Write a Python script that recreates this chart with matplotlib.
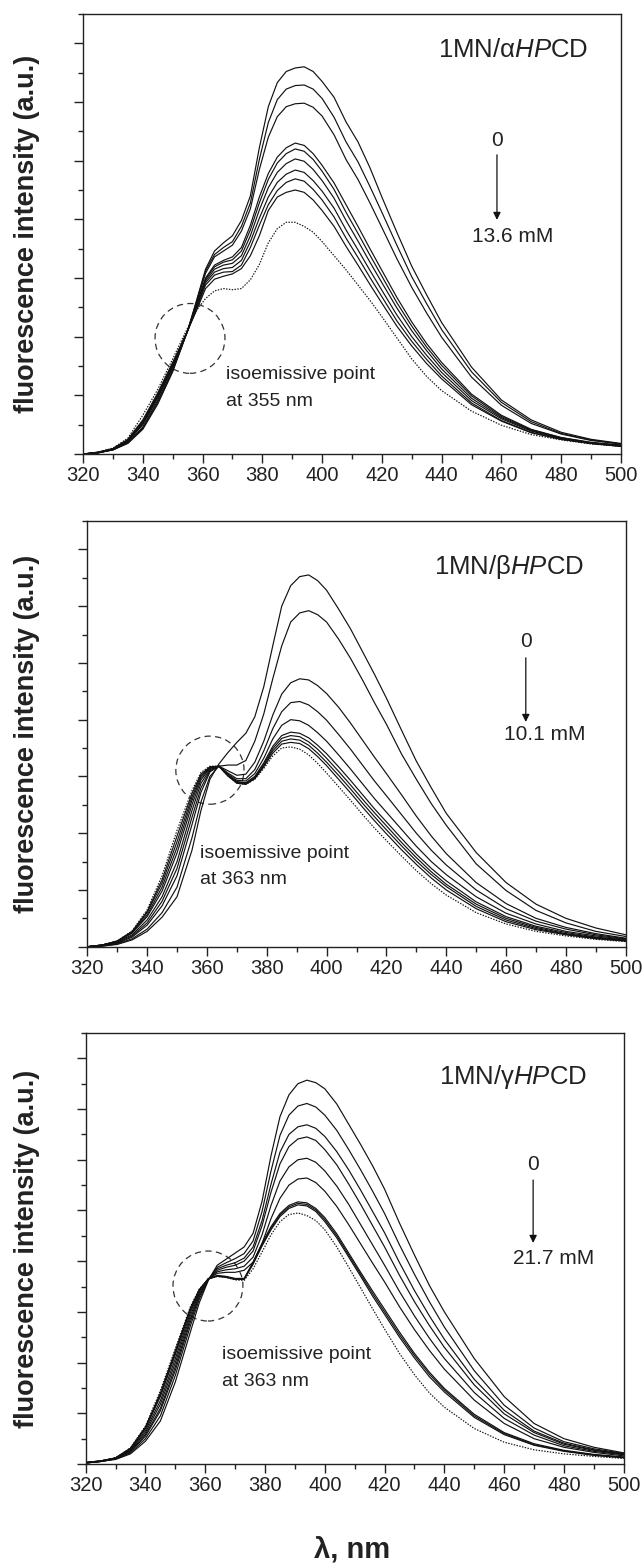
import numpy as np
import matplotlib
matplotlib.use("Agg")
import matplotlib.pyplot as plt
from matplotlib.patches import Ellipse
from matplotlib.ticker import MultipleLocator, NullFormatter

plt.rcParams['font.family'] = ['Liberation Sans', 'DejaVu Sans']
plt.rcParams['mathtext.fontset'] = 'custom'
plt.rcParams['mathtext.rm'] = 'Liberation Sans'
plt.rcParams['mathtext.it'] = 'Liberation Sans:italic'
plt.rcParams['mathtext.bf'] = 'Liberation Sans:bold'

# ---------------- data ----------------
wavelength = [320, 325, 330, 335, 340, 345, 350, 355, 358, 361, 364, 367, 370, 373, 376, 379, 382, 385, 388,
              391, 394, 397, 400, 404, 408, 412, 416, 420, 425, 430, 435, 440, 450, 460, 470, 480, 490, 500]

alpha_solid = [
    [0.00, 0.02, 0.07, 0.18, 0.42, 0.85, 1.40, 2.10, 2.62, 3.15, 3.46, 3.60, 3.72, 3.98, 4.40, 5.22, 5.92, 6.33, 6.52, 6.58, 6.60, 6.52, 6.35, 6.08, 5.66, 5.32, 4.88, 4.38, 3.78, 3.20, 2.71, 2.24, 1.48, 0.92, 0.58, 0.37, 0.25, 0.18],
    [0.00, 0.02, 0.07, 0.19, 0.44, 0.88, 1.42, 2.10, 2.60, 3.12, 3.40, 3.52, 3.62, 3.88, 4.28, 5.02, 5.65, 6.04, 6.22, 6.28, 6.29, 6.22, 6.06, 5.74, 5.32, 4.98, 4.56, 4.12, 3.56, 3.02, 2.56, 2.12, 1.40, 0.88, 0.55, 0.35, 0.24, 0.17],
    [0.00, 0.02, 0.07, 0.19, 0.46, 0.91, 1.44, 2.10, 2.58, 3.08, 3.36, 3.46, 3.56, 3.80, 4.18, 4.85, 5.40, 5.75, 5.92, 5.97, 5.98, 5.91, 5.76, 5.44, 5.02, 4.68, 4.28, 3.86, 3.33, 2.84, 2.40, 1.99, 1.31, 0.83, 0.52, 0.34, 0.23, 0.17],
    [0.00, 0.02, 0.08, 0.21, 0.50, 0.95, 1.48, 2.10, 2.55, 3.00, 3.22, 3.30, 3.36, 3.52, 3.90, 4.38, 4.78, 5.06, 5.22, 5.30, 5.26, 5.12, 4.92, 4.62, 4.25, 3.88, 3.50, 3.13, 2.67, 2.25, 1.88, 1.56, 1.02, 0.66, 0.42, 0.28, 0.20, 0.15],
    [0.00, 0.02, 0.08, 0.22, 0.51, 0.96, 1.49, 2.10, 2.54, 2.98, 3.19, 3.27, 3.31, 3.46, 3.82, 4.28, 4.68, 4.96, 5.12, 5.20, 5.16, 5.02, 4.82, 4.51, 4.12, 3.76, 3.39, 3.03, 2.58, 2.18, 1.82, 1.51, 0.99, 0.64, 0.41, 0.28, 0.19, 0.15],
    [0.00, 0.02, 0.08, 0.22, 0.53, 0.98, 1.50, 2.10, 2.52, 2.95, 3.15, 3.22, 3.25, 3.38, 3.72, 4.16, 4.54, 4.80, 4.95, 5.03, 4.99, 4.85, 4.66, 4.36, 3.98, 3.63, 3.27, 2.92, 2.49, 2.10, 1.76, 1.45, 0.95, 0.62, 0.40, 0.27, 0.19, 0.14],
    [0.00, 0.03, 0.09, 0.23, 0.54, 1.00, 1.52, 2.10, 2.50, 2.92, 3.10, 3.16, 3.18, 3.30, 3.62, 4.02, 4.38, 4.63, 4.77, 4.84, 4.80, 4.66, 4.48, 4.19, 3.82, 3.48, 3.13, 2.79, 2.37, 2.00, 1.68, 1.39, 0.91, 0.60, 0.39, 0.26, 0.18, 0.14],
    [0.00, 0.03, 0.09, 0.24, 0.56, 1.02, 1.54, 2.10, 2.48, 2.88, 3.05, 3.10, 3.11, 3.22, 3.52, 3.90, 4.25, 4.49, 4.63, 4.69, 4.65, 4.51, 4.33, 4.04, 3.68, 3.35, 3.01, 2.68, 2.27, 1.92, 1.61, 1.33, 0.87, 0.57, 0.37, 0.25, 0.18, 0.13],
    [0.00, 0.03, 0.09, 0.25, 0.58, 1.04, 1.56, 2.10, 2.45, 2.82, 2.98, 3.03, 3.07, 3.16, 3.38, 3.72, 4.15, 4.38, 4.46, 4.50, 4.46, 4.33, 4.15, 3.88, 3.54, 3.22, 2.89, 2.57, 2.18, 1.84, 1.54, 1.28, 0.84, 0.56, 0.36, 0.25, 0.18, 0.13],
]
alpha_dotted = [0.00, 0.03, 0.10, 0.27, 0.66, 1.10, 1.62, 2.15, 2.45, 2.65, 2.78, 2.82, 2.80, 2.82, 2.97, 3.23, 3.60, 3.84, 3.95, 3.95, 3.88, 3.78, 3.62, 3.38, 3.14, 2.88, 2.62, 2.34, 1.98, 1.62, 1.32, 1.08, 0.73, 0.49, 0.33, 0.24, 0.17, 0.13]

beta_solid = [
    [0.00, 0.01, 0.04, 0.12, 0.27, 0.52, 0.88, 1.70, 2.40, 2.95, 3.22, 3.42, 3.60, 3.76, 4.05, 4.58, 5.30, 6.00, 6.36, 6.52, 6.55, 6.45, 6.28, 5.95, 5.60, 5.20, 4.80, 4.38, 3.82, 3.27, 2.80, 2.35, 1.66, 1.13, 0.75, 0.50, 0.33, 0.21],
    [0.00, 0.01, 0.05, 0.14, 0.31, 0.60, 1.05, 1.92, 2.55, 3.00, 3.18, 3.20, 3.20, 3.28, 3.62, 4.10, 4.72, 5.30, 5.72, 5.88, 5.92, 5.85, 5.72, 5.42, 5.08, 4.70, 4.30, 3.92, 3.40, 2.95, 2.52, 2.14, 1.46, 0.99, 0.64, 0.42, 0.27, 0.18],
    [0.00, 0.02, 0.06, 0.17, 0.38, 0.72, 1.25, 2.15, 2.72, 3.08, 3.18, 3.10, 3.02, 3.04, 3.25, 3.62, 4.08, 4.45, 4.65, 4.72, 4.70, 4.60, 4.46, 4.22, 3.94, 3.64, 3.34, 3.05, 2.68, 2.30, 1.95, 1.64, 1.13, 0.76, 0.50, 0.34, 0.23, 0.15],
    [0.00, 0.02, 0.07, 0.19, 0.42, 0.80, 1.38, 2.28, 2.80, 3.10, 3.18, 3.06, 2.96, 2.96, 3.12, 3.45, 3.84, 4.14, 4.30, 4.32, 4.26, 4.14, 3.99, 3.74, 3.48, 3.20, 2.92, 2.66, 2.33, 2.00, 1.70, 1.44, 1.00, 0.67, 0.45, 0.31, 0.21, 0.14],
    [0.00, 0.02, 0.08, 0.21, 0.47, 0.88, 1.50, 2.40, 2.88, 3.12, 3.18, 3.04, 2.93, 2.92, 3.05, 3.32, 3.66, 3.90, 4.00, 3.98, 3.90, 3.77, 3.62, 3.38, 3.13, 2.87, 2.61, 2.37, 2.07, 1.77, 1.50, 1.27, 0.88, 0.59, 0.40, 0.27, 0.19, 0.13],
    [0.00, 0.03, 0.09, 0.24, 0.53, 0.98, 1.65, 2.50, 2.94, 3.14, 3.18, 3.02, 2.91, 2.89, 3.00, 3.24, 3.53, 3.72, 3.78, 3.76, 3.68, 3.55, 3.40, 3.17, 2.93, 2.68, 2.43, 2.20, 1.91, 1.63, 1.38, 1.16, 0.79, 0.53, 0.36, 0.25, 0.17, 0.12],
    [0.00, 0.03, 0.09, 0.25, 0.56, 1.05, 1.75, 2.58, 2.98, 3.15, 3.18, 3.02, 2.90, 2.88, 2.98, 3.21, 3.49, 3.67, 3.72, 3.70, 3.61, 3.48, 3.32, 3.09, 2.85, 2.60, 2.36, 2.13, 1.84, 1.57, 1.32, 1.10, 0.75, 0.50, 0.34, 0.23, 0.16, 0.11],
    [0.00, 0.03, 0.10, 0.26, 0.60, 1.12, 1.85, 2.64, 3.01, 3.16, 3.18, 3.01, 2.89, 2.87, 2.97, 3.19, 3.45, 3.62, 3.66, 3.64, 3.55, 3.41, 3.25, 3.02, 2.78, 2.53, 2.29, 2.06, 1.78, 1.51, 1.27, 1.06, 0.71, 0.47, 0.32, 0.22, 0.15, 0.10],
    [0.00, 0.03, 0.10, 0.27, 0.62, 1.18, 1.95, 2.70, 3.04, 3.17, 3.18, 3.01, 2.88, 2.86, 2.96, 3.17, 3.41, 3.57, 3.60, 3.58, 3.49, 3.35, 3.19, 2.95, 2.71, 2.46, 2.22, 1.99, 1.71, 1.45, 1.21, 1.00, 0.67, 0.44, 0.30, 0.21, 0.14, 0.10],
]
beta_dotted = [0.00, 0.03, 0.10, 0.28, 0.65, 1.25, 2.05, 2.75, 3.07, 3.18, 3.18, 3.01, 2.88, 2.86, 2.95, 3.14, 3.36, 3.50, 3.52, 3.48, 3.38, 3.23, 3.06, 2.82, 2.58, 2.33, 2.09, 1.87, 1.60, 1.34, 1.11, 0.91, 0.60, 0.40, 0.27, 0.19, 0.13, 0.09]

gamma_solid = [
    [0.02, 0.05, 0.09, 0.20, 0.45, 0.85, 1.62, 2.60, 3.18, 3.62, 3.92, 4.04, 4.16, 4.28, 4.55, 5.18, 6.08, 6.85, 7.28, 7.50, 7.57, 7.52, 7.40, 7.10, 6.70, 6.30, 5.88, 5.42, 4.75, 4.12, 3.52, 3.00, 2.08, 1.33, 0.80, 0.50, 0.33, 0.22],
    [0.02, 0.05, 0.10, 0.22, 0.50, 0.95, 1.75, 2.72, 3.25, 3.63, 3.88, 3.97, 4.05, 4.15, 4.40, 4.98, 5.78, 6.48, 6.88, 7.06, 7.11, 7.04, 6.88, 6.58, 6.20, 5.80, 5.38, 4.94, 4.32, 3.74, 3.20, 2.70, 1.84, 1.16, 0.71, 0.44, 0.30, 0.21],
    [0.02, 0.05, 0.10, 0.24, 0.55, 1.05, 1.85, 2.80, 3.30, 3.64, 3.85, 3.92, 3.97, 4.06, 4.28, 4.80, 5.52, 6.15, 6.50, 6.65, 6.69, 6.62, 6.46, 6.16, 5.80, 5.40, 4.98, 4.56, 3.97, 3.42, 2.92, 2.46, 1.67, 1.06, 0.65, 0.41, 0.28, 0.20],
    [0.02, 0.05, 0.11, 0.25, 0.58, 1.10, 1.92, 2.86, 3.33, 3.64, 3.82, 3.88, 3.92, 4.00, 4.20, 4.70, 5.36, 5.92, 6.26, 6.41, 6.45, 6.38, 6.20, 5.90, 5.52, 5.12, 4.70, 4.28, 3.72, 3.20, 2.73, 2.30, 1.56, 0.99, 0.62, 0.39, 0.27, 0.19],
    [0.02, 0.05, 0.11, 0.27, 0.62, 1.18, 2.00, 2.92, 3.37, 3.65, 3.79, 3.83, 3.85, 3.90, 4.08, 4.52, 5.10, 5.58, 5.86, 6.00, 6.03, 5.95, 5.78, 5.48, 5.12, 4.72, 4.32, 3.92, 3.40, 2.92, 2.48, 2.08, 1.41, 0.90, 0.57, 0.36, 0.25, 0.18],
    [0.03, 0.06, 0.11, 0.28, 0.66, 1.25, 2.08, 2.98, 3.40, 3.65, 3.76, 3.78, 3.78, 3.82, 3.98, 4.35, 4.84, 5.24, 5.50, 5.62, 5.64, 5.55, 5.38, 5.08, 4.72, 4.34, 3.96, 3.59, 3.10, 2.65, 2.24, 1.87, 1.26, 0.80, 0.50, 0.33, 0.23, 0.16],
    [0.03, 0.06, 0.12, 0.30, 0.70, 1.33, 2.16, 3.03, 3.42, 3.65, 3.72, 3.70, 3.66, 3.66, 3.98, 4.35, 4.68, 4.94, 5.10, 5.17, 5.15, 5.04, 4.86, 4.54, 4.16, 3.78, 3.41, 3.05, 2.60, 2.18, 1.81, 1.49, 0.98, 0.62, 0.40, 0.27, 0.19, 0.14],
    [0.03, 0.06, 0.12, 0.31, 0.72, 1.37, 2.20, 3.05, 3.43, 3.65, 3.71, 3.69, 3.65, 3.65, 3.96, 4.32, 4.65, 4.91, 5.07, 5.14, 5.12, 5.01, 4.82, 4.50, 4.12, 3.74, 3.36, 3.00, 2.55, 2.14, 1.77, 1.46, 0.95, 0.60, 0.38, 0.26, 0.18, 0.13],
    [0.03, 0.06, 0.12, 0.31, 0.73, 1.40, 2.24, 3.07, 3.44, 3.65, 3.70, 3.68, 3.64, 3.64, 3.94, 4.30, 4.62, 4.88, 5.04, 5.11, 5.09, 4.98, 4.78, 4.46, 4.08, 3.70, 3.31, 2.95, 2.50, 2.09, 1.72, 1.42, 0.92, 0.58, 0.37, 0.25, 0.17, 0.12],
]
gamma_dotted = [0.03, 0.06, 0.12, 0.32, 0.75, 1.45, 2.28, 3.10, 3.45, 3.65, 3.70, 3.68, 3.63, 3.62, 3.85, 4.18, 4.52, 4.78, 4.92, 4.95, 4.90, 4.80, 4.62, 4.28, 3.88, 3.47, 3.06, 2.66, 2.18, 1.76, 1.40, 1.12, 0.70, 0.43, 0.28, 0.20, 0.15, 0.11]

panel_titles = ['1MN/\u03b1$\\mathit{HP}$CD', '1MN/\u03b2$\\mathit{HP}$CD', '1MN/\u03b3$\\mathit{HP}$CD']
conc_labels = ['13.6 mM', '10.1 mM', '21.7 mM']
iso_labels = ['at 355 nm', 'at 363 nm', 'at 363 nm']
y_max = [7.5, 7.5, 8.5]
x_ticks = [320, 340, 360, 380, 400, 420, 440, 460, 480, 500]

# ---------------- layout ----------------
W, H = 643, 1564
fig = plt.figure(figsize=(W / 100, H / 100), dpi=100)

def frac_rect(l, r, t, b):
    return [l / W, 1 - b / H, (r - l) / W, (b - t) / H]

rects = [frac_rect(83, 621, 14, 454), frac_rect(87.3, 625.7, 521, 946.7), frac_rect(85.7, 623.7, 1033, 1464)]

annot = [
    dict(title=(464, 6.89), zero=(458.5, 5.35), arr=(5.10, 3.99), conc=(463.9, 3.70),
         iso=(367.8, 1.35, 0.89), circ=(355.8, 1.97, 23.4, 1.19)),
    dict(title=(461, 6.69), zero=(466.6, 5.37), arr=(5.09, 3.96), conc=(473.0, 3.73),
         iso=(357.7, 1.65, 1.18), circ=(361.0, 3.11, 22.8, 1.20)),
    dict(title=(463, 7.63), zero=(469.7, 5.90), arr=(5.60, 4.36), conc=(476.4, 4.06),
         iso=(365.6, 2.15, 1.62), circ=(360.9, 3.51, 23.4, 1.38)),
]

panels = [(alpha_solid, alpha_dotted), (beta_solid, beta_dotted), (gamma_solid, gamma_dotted)]

for i, (solid, dotted) in enumerate(panels):
    ax = fig.add_axes(rects[i])
    for curve in solid:
        ax.plot(wavelength, curve, color='#111111', lw=0.85)
    ax.plot(wavelength, dotted, color='#111111', lw=0.85, ls=(0, (1.2, 1.2)))

    ax.set_xlim(320, 500)
    ax.set_ylim(0, y_max[i])
    ax.set_xticks(x_ticks)
    ax.xaxis.set_minor_locator(MultipleLocator(10))
    ax.yaxis.set_major_locator(MultipleLocator(1))
    ax.yaxis.set_minor_locator(MultipleLocator(0.5))
    ax.yaxis.set_major_formatter(NullFormatter())
    ax.tick_params(axis='both', which='major', direction='out', length=6.5, width=1.0,
                   labelsize=14.5, pad=2, colors='#222222')
    ax.tick_params(axis='both', which='minor', direction='out', length=3.8, width=1.0, colors='#222222')
    ax.tick_params(top=False, right=False, which='both')
    for s in ax.spines.values():
        s.set_linewidth(1.0)
        s.set_color('#222222')

    a = annot[i]
    ax.text(a['title'][0], a['title'][1], panel_titles[i], ha='center', va='center',
            fontsize=18.5, color='#222222')
    ax.text(a['zero'][0], a['zero'][1], '0', ha='center', va='center', fontsize=15, color='#222222')
    ax.annotate('', xy=(a['zero'][0], a['arr'][1]), xytext=(a['zero'][0], a['arr'][0]),
                arrowprops=dict(arrowstyle='-|>', color='#111111', lw=0.9, mutation_scale=11,
                                shrinkA=0, shrinkB=0))
    ax.text(a['conc'][0], a['conc'][1], conc_labels[i], ha='center', va='center', fontsize=15,
            color='#222222')
    ax.text(a['iso'][0], a['iso'][1], 'isoemissive point', ha='left', va='center', fontsize=14,
            color='#222222')
    ax.text(a['iso'][0], a['iso'][2], iso_labels[i], ha='left', va='center', fontsize=14,
            color='#222222')
    cx, cy, cw, ch = a['circ']
    ax.add_patch(Ellipse((cx, cy), cw, ch, fill=False, ls=(0, (5, 3.5)), lw=0.9, color='#333333'))

    fig.text(27.5 / W, rects[i][1] + rects[i][3] / 2, 'fluorescence intensity (a.u.)', rotation=90,
             ha='center', va='center', fontsize=19.5, fontweight='bold', color='#222222')

fig.text(352 / W, 7 / H, '\u03bb, nm', ha='center', va='baseline', fontsize=21, fontweight='bold',
         color='#222222')

fig.savefig('out.png', dpi=100)
